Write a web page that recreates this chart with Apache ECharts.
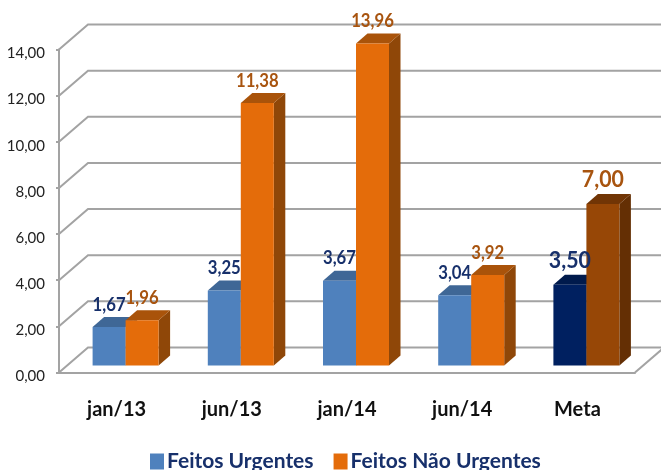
<!DOCTYPE html>
<html><head><meta charset="utf-8">
<style>html,body{margin:0;padding:0;background:#fff}#c{width:661px;height:470px;filter:blur(0.35px)}</style>
<script src="https://cdn.jsdelivr.net/npm/echarts@6/dist/echarts.min.js"></script>
</head><body><div id="c"></div>
<script>
const categories = ['jan/13','jun/13','jan/14','jun/14','Meta'];
const urgentes = [1.67,3.25,3.67,3.04,3.50];
const naoUrgentes = [1.96,11.38,13.96,3.92,7.00];
const yTicks = [0,2,4,6,8,10,12,14];

const fmt = v => v.toFixed(2).replace('.',',');
const DEPTH_X = 29, DEPTH_Y = 25;      // wall depth
const BAR_DX = 11.5, BAR_DY = 10;      // bar depth
const BAR_W = 33, FLOOR_X = 9, FLOOR_Y = 7;
const META = categories.length - 1;

const palette = {
  u: {front:'#4f81bd', top:'#3f6796', side:'#3f6796', label:'#17306b'},
  n: {front:'#e46c0a', top:'#a9530a', side:'#8f4708', label:'#a8540f'},
  um:{front:'#002060', top:'#001a4c', side:'#001a4c', label:'#17306b'},
  nm:{front:'#974706', top:'#713505', side:'#642f04', label:'#a8540f'}
};

function geom(api, slot){
  const i = api.value(0), v = api.value(1);
  const base = api.coord([i,0]), topP = api.coord([i,v]);
  const x0 = base[0] + FLOOR_X + (slot===0 ? -BAR_W : 0);
  return {i, v, x0, x1:x0+BAR_W, y0:base[1]-FLOOR_Y, y1:topP[1]-FLOOR_Y};
}

function bar(slot, key, keyMeta){
  return function(params, api){
    const {i,x0,x1,y0,y1} = geom(api, slot);
    const c = palette[i===META ? keyMeta : key];
    return {type:'group', children:[
      {type:'polygon', shape:{points:[[x1,y0],[x1+BAR_DX,y0-BAR_DY],[x1+BAR_DX,y1-BAR_DY],[x1,y1]]}, style:{fill:c.side}},
      {type:'polygon', shape:{points:[[x0,y1],[x0+BAR_DX,y1-BAR_DY],[x1+BAR_DX,y1-BAR_DY],[x1,y1]]}, style:{fill:c.top}},
      {type:'rect', shape:{x:x0,y:y1,width:BAR_W,height:y0-y1}, style:{fill:c.front}}
    ]};
  };
}

function barLabel(slot, key, keyMeta){
  return function(params, api){
    const {i,v,x0,x1,y1} = geom(api, slot);
    const c = palette[i===META ? keyMeta : key];
    const cx = (x0+x1)/2, cy = y1-BAR_DY-3;
    return {type:'text', x:cx, y:cy, scaleX:i===META?0.97:0.88,
      style:{text:fmt(v), x:0, y:0, align:'center', verticalAlign:'bottom',
        fill:c.label, font:(i===META?'bold 22px':'bold 19px')+' Lato'}};
  };
}

function wall(params, api){
  const v = api.value(1);
  const p = api.coord([0,v]);
  const w = api.size([1,0])[0];
  const xl = p[0]-w/2, y = p[1];
  const xr = xl + w*categories.length;
  const st = {stroke:'#a3a3a3', lineWidth:2, fill:null};
  const kids = [{type:'polyline', shape:{points:[[xl,y],[xl+DEPTH_X,y-DEPTH_Y],[xr+DEPTH_X+10,y-DEPTH_Y]]}, style:st}];
  if(v===0) kids.push({type:'line', shape:{x1:xr,y1:y,x2:xr+DEPTH_X,y2:y-DEPTH_Y}, style:st});
  return {type:'group', children:kids};
}

const uData = categories.map((c,i)=>[c,urgentes[i]]);
const nData = categories.map((c,i)=>[c,naoUrgentes[i]]);

const chart = echarts.init(document.getElementById('c'), null, {renderer:'canvas'});
chart.setOption({
  animation:false,
  backgroundColor:'#fff',
  grid:{left:59,right:26,top:49.5,bottom:97.5},
  legend:{
    data:['Feitos Urgentes','Feitos Não Urgentes'], left:145, top:446, itemWidth:14, itemHeight:16, itemGap:20,
    icon:'rect', textStyle:{color:'#17306b', fontFamily:'Lato', fontWeight:'bold', fontSize:21, padding:[2,0,0,-2]}
  },
  xAxis:{type:'category', data:categories,
    axisLine:{lineStyle:{color:'#a3a3a3',width:2}},
    axisTick:{length:9,lineStyle:{color:'#a3a3a3',width:2}},
    axisLabel:{color:'#111',fontFamily:'Lato',fontWeight:'bold',fontSize:20,margin:27}},
  yAxis:{type:'value', min:0, max:14, interval:2,
    axisLine:{show:true,lineStyle:{color:'#a3a3a3',width:2}},
    axisTick:{show:true,length:3,lineStyle:{color:'#a3a3a3',width:2}},
    splitLine:{show:false},
    axisLabel:{color:'#222',fontFamily:'Lato',fontSize:15,margin:14,verticalAlign:'top',lineHeight:8,formatter:v=>fmt(v)}},
  series:[
    {type:'custom',name:'wall',silent:true,clip:false,z:1,renderItem:wall,encode:{x:0,y:1},
      data:yTicks.map(t=>[categories[0],t])},
    {type:'custom',name:'Feitos Urgentes',clip:false,z:2,renderItem:bar(0,'u','um'),encode:{x:0,y:1},
      itemStyle:{color:palette.u.front},data:uData},
    {type:'custom',name:'Feitos Não Urgentes',clip:false,z:3,renderItem:bar(1,'n','nm'),encode:{x:0,y:1},
      itemStyle:{color:palette.n.front},data:nData},
    {type:'custom',name:'labelsU',clip:false,z:5,renderItem:barLabel(0,'u','um'),encode:{x:0,y:1},data:uData},
    {type:'custom',name:'labelsN',clip:false,z:6,renderItem:barLabel(1,'n','nm'),encode:{x:0,y:1},data:nData}
  ]
});
</script></body></html>
